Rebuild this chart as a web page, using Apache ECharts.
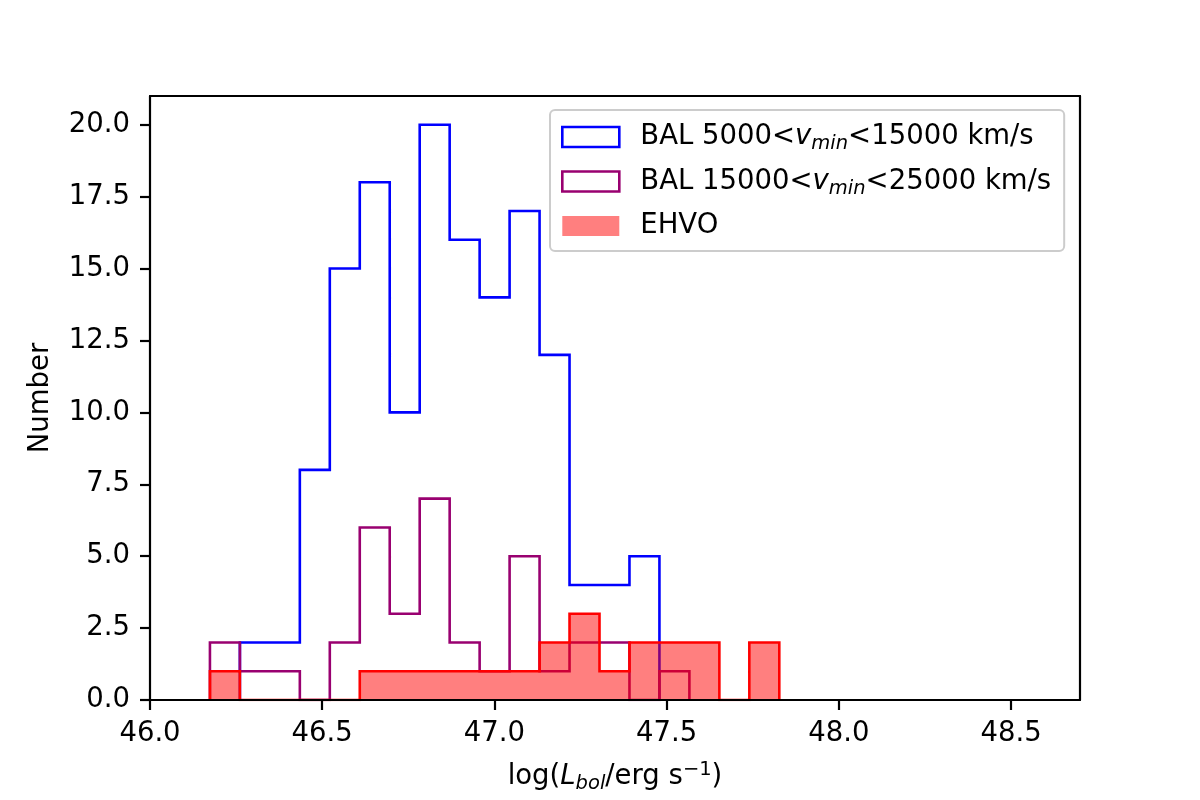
<!DOCTYPE html>
<html>
<head>
<meta charset="utf-8">
<title>Lbol histogram</title>
<script src="https://cdn.jsdelivr.net/npm/echarts@6/dist/echarts.min.js"></script>
<style>
  html, body { margin: 0; padding: 0; background: #fff; }
  #main { width: 1200px; height: 800px; }
</style>
</head>
<body>
<div id="main"></div>
<script>
// bin edges (log Lbol)
var binEdges = [46.174, 46.261, 46.348, 46.435, 46.522, 46.609, 46.696, 46.783, 46.870, 46.957,
                47.044, 47.131, 47.218, 47.305, 47.392, 47.479, 47.566, 47.653, 47.740, 47.827];

// counts per bin
var balLow  = [0, 2, 2, 8, 15, 18, 10, 20, 16, 14, 17, 12, 4, 4, 5, 0, 0, 0, 0];
var balHigh = [2, 1, 1, 0, 2, 6, 3, 7, 2, 1, 5, 1, 2, 2, 0, 1, 0, 0, 0];
var ehvo    = [1, 0, 0, 0, 0, 1, 1, 1, 1, 1, 1, 2, 3, 1, 2, 2, 2, 0, 2];

var xTicks = [46.0, 46.5, 47.0, 47.5, 48.0, 48.5];
var yTicks = [0, 2.5, 5, 7.5, 10, 12.5, 15, 17.5, 20];

var seriesNames = ['BAL 5000<vmin<15000 km/s', 'BAL 15000<vmin<25000 km/s', 'EHVO'];

var FONT = 'DejaVu Sans';
var FS = 27.5;

// outline of a step histogram, leading/trailing empty bins dropped
function stepPoints(counts) {
  var first = 0, last = counts.length - 1;
  while (counts[first] === 0) first++;
  while (counts[last] === 0) last--;
  var pts = [[binEdges[first], 0]];
  for (var i = first; i <= last; i++) {
    pts.push([binEdges[i], counts[i]]);
    pts.push([binEdges[i + 1], counts[i]]);
  }
  pts.push([binEdges[last + 1], 0]);
  return pts;
}

var richText = {
  n: { fontFamily: FONT, fontSize: FS, lineHeight: 34, color: '#000' },
  f: { fontFamily: FONT, fontSize: FS, lineHeight: 34, color: '#000', padding: [0, 0, 0, 16] },
  i: { fontFamily: FONT, fontSize: FS, lineHeight: 34, color: '#000', fontStyle: 'italic' },
  s: { fontFamily: FONT, fontSize: 19.5, lineHeight: 22, color: '#000', fontStyle: 'italic', verticalAlign: 'bottom' },
  p: { fontFamily: FONT, fontSize: 19.5, lineHeight: 15, color: '#000', verticalAlign: 'top' }
};

var legendLabels = {};
legendLabels[seriesNames[0]] = '{f|BAL 5000<}{i|v}{s|min}{n|<15000 km/s}';
legendLabels[seriesNames[1]] = '{f|BAL 15000<}{i|v}{s|min}{n|<25000 km/s}';
legendLabels[seriesNames[2]] = '{f|EHVO}';

var blackLine = { color: '#000', width: 2.2 };

var chart = echarts.init(document.getElementById('main'), null, { renderer: 'canvas' });

var option = {
  animation: false,
  backgroundColor: '#fff',
  grid: { left: 150, right: 120, top: 96, bottom: 100, containLabel: false, outerBoundsMode: 'none' },
  legend: {
    orient: 'vertical',
    left: 550,
    top: 110,
    padding: [13, 13, 11, 11],
    itemWidth: 57,
    itemHeight: 20,
    itemGap: 13.5,
    selectedMode: false,
    backgroundColor: 'rgba(255,255,255,0.8)',
    borderColor: '#cccccc',
    borderWidth: 2,
    borderRadius: 5,
    textStyle: { fontFamily: FONT, fontSize: FS, color: '#000', rich: richText },
    formatter: function (name) { return legendLabels[name]; },
    data: [
      { name: seriesNames[0], icon: 'rect', itemStyle: { color: '#fff', borderColor: '#0000ff', borderWidth: 2.6 } },
      { name: seriesNames[1], icon: 'rect', itemStyle: { color: '#fff', borderColor: '#990070', borderWidth: 2.6 } },
      { name: seriesNames[2], icon: 'rect', itemStyle: { color: 'rgba(255,0,0,0.5)', borderWidth: 0 } }
    ]
  },
  xAxis: [
    {
      type: 'value',
      position: 'bottom',
      min: 46,
      max: 48.7,
      interval: 0.5,
      z: 10,
      name: '{n|log(}{i|L}{s|bol}{n|/erg s}{p|−1}{n|)}',
      nameLocation: 'middle',
      nameGap: 60,
      nameTextStyle: { rich: richText },
      splitLine: { show: false },
      axisLine: { show: true, onZero: false, lineStyle: blackLine },
      axisTick: { show: true, length: 10, lineStyle: blackLine, customValues: xTicks },
      axisLabel: {
        margin: 20, fontFamily: FONT, fontSize: FS, color: '#000', customValues: xTicks,
        formatter: function (v) { return v.toFixed(1); }
      }
    },
    {
      type: 'value',
      position: 'top',
      min: 46,
      max: 48.7,
      z: 10,
      splitLine: { show: false },
      axisLine: { show: true, onZero: false, lineStyle: blackLine },
      axisTick: { show: false },
      axisLabel: { show: false }
    }
  ],
  yAxis: [
    {
      type: 'value',
      position: 'left',
      min: 0,
      max: 21,
      interval: 2.5,
      z: 10,
      name: 'Number',
      nameLocation: 'middle',
      nameGap: 85.5,
      nameTextStyle: { fontFamily: FONT, fontSize: FS, color: '#000', lineHeight: 34 },
      splitLine: { show: false },
      axisLine: { show: true, onZero: false, lineStyle: blackLine },
      axisTick: { show: true, length: 10, lineStyle: blackLine, customValues: yTicks },
      axisLabel: {
        margin: 20, fontFamily: FONT, fontSize: FS, color: '#000', customValues: yTicks,
        formatter: function (v) { return v.toFixed(1); }
      }
    },
    {
      type: 'value',
      position: 'right',
      min: 0,
      max: 21,
      z: 10,
      splitLine: { show: false },
      axisLine: { show: true, onZero: false, lineStyle: blackLine },
      axisTick: { show: false },
      axisLabel: { show: false }
    }
  ],
  series: [
    {
      name: 'balLowOutline',
      type: 'line',
      symbol: 'none',
      data: stepPoints(balLow),
      lineStyle: { color: '#0000ff', width: 2.6, join: 'miter' },
      z: 2
    },
    {
      name: 'balHighOutline',
      type: 'line',
      symbol: 'none',
      data: stepPoints(balHigh),
      lineStyle: { color: '#990070', width: 2.6, join: 'miter' },
      z: 3
    },
    {
      name: 'ehvoOutline',
      type: 'line',
      symbol: 'none',
      data: stepPoints(ehvo),
      lineStyle: { color: '#ff0000', width: 2.6, join: 'miter' },
      areaStyle: { color: 'rgba(255,0,0,0.5)', opacity: 1 },
      z: 4
    },
    // empty series, only there to give the legend its patches
    { name: seriesNames[0], type: 'bar', data: [], itemStyle: { color: '#fff', borderColor: '#0000ff', borderWidth: 2.6 } },
    { name: seriesNames[1], type: 'bar', data: [], itemStyle: { color: '#fff', borderColor: '#990070', borderWidth: 2.6 } },
    { name: seriesNames[2], type: 'bar', data: [], itemStyle: { color: 'rgba(255,0,0,0.5)' } }
  ]
};

chart.setOption(option);
</script>
</body>
</html>
